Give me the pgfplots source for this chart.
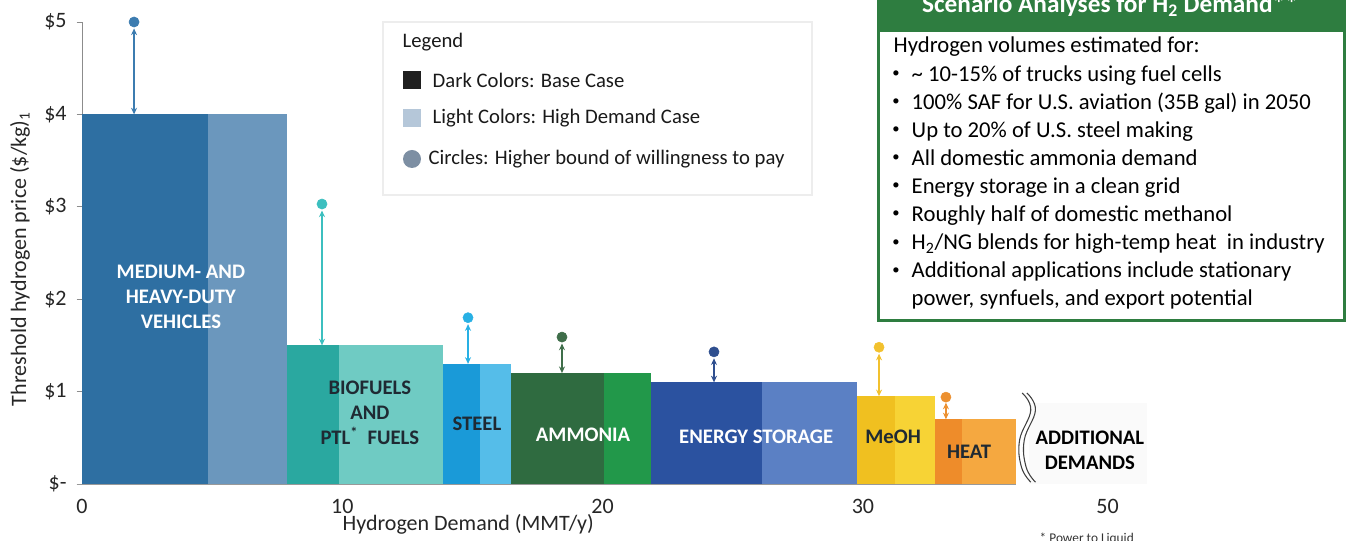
\documentclass[border=0pt]{standalone}
\usepackage{pgfplots}
\pgfplotsset{compat=1.18}
\usepackage{fontspec}
\setmainfont{Carlito}
\usetikzlibrary{arrows.meta}

\definecolor{mhdvD}{HTML}{2E6FA2}
\definecolor{mhdvL}{HTML}{6B97BD}
\definecolor{mhdvC}{HTML}{3C7CB0}
\definecolor{bioD}{HTML}{2AA8A0}
\definecolor{bioL}{HTML}{6FCBC3}
\definecolor{bioC}{HTML}{3CBFBF}
\definecolor{stD}{HTML}{1A9AD8}
\definecolor{stL}{HTML}{55BDE9}
\definecolor{stC}{HTML}{28B0E4}
\definecolor{amD}{HTML}{2F6B40}
\definecolor{amL}{HTML}{22984A}
\definecolor{amC}{HTML}{3F6E4A}
\definecolor{esD}{HTML}{2B52A0}
\definecolor{esL}{HTML}{5B80C4}
\definecolor{esC}{HTML}{2F4F8F}
\definecolor{meD}{HTML}{F0C020}
\definecolor{meL}{HTML}{F7D335}
\definecolor{meC}{HTML}{F2C12E}
\definecolor{htD}{HTML}{EE8C2A}
\definecolor{htL}{HTML}{F5A840}
\definecolor{htC}{HTML}{EC9030}
\definecolor{sgreen}{HTML}{2E7D40}
\definecolor{darktxt}{HTML}{1F2A33}
\definecolor{legL}{HTML}{B5C7D9}
\definecolor{legC}{HTML}{7D8FA3}

\newcommand{\axf}{\fontsize{16.5}{19}\selectfont}
\newcommand{\barf}{\fontsize{15.5}{18.75}\selectfont\bfseries}
\newcommand{\legf}{\fontsize{15.5}{18}\selectfont}
\newcommand{\scf}{\fontsize{17}{21}\selectfont}

\pgfplotsset{
  stem/.style={line width=1pt, {Stealth[length=5pt,width=4.5pt]}-{Stealth[length=5pt,width=4.5pt]}},
  dot/.style={only marks, mark=*, mark size=3.8pt},
}

\begin{document}
\begin{tikzpicture}[x=0.75pt,y=0.75pt]
\useasboundingbox (0,0) rectangle (1354,541);
\begin{axis}[
  at={(61.5pt,42.75pt)}, anchor=south west,
  scale only axis, width=780.9pt, height=346.5pt,
  xmin=0, xmax=40, ymin=0, ymax=5,
  clip=false,
  axis x line*=bottom, axis y line*=left,
  x axis line style={draw=none},
  y axis line style={draw=black!45, line width=0.6pt, -},
  xtick={0,10,20,30,39.4}, xticklabels={0,10,20,30,50},
  ytick={0,1,2,3,4,5}, yticklabels={\$-,\$1,\$2,\$3,\$4,\$5},
  xtick style={draw=none},
  ytick style={draw=black!45, line width=0.6pt},
  tick align=outside, major tick length=4pt,
  ticklabel style={font=\axf, text=black!85},
  xticklabel style={yshift=-4pt},
  yticklabel style={xshift=-4pt},
  xlabel={Hydrogen Demand (MMT/y)},
  ylabel={Threshold hydrogen price (\$/kg)\textsubscript{1}},
  label style={font=\axf, text=black!85},
  xlabel style={at={(axis description cs:0.371,0)}, anchor=center, yshift=-30pt},
  ylabel style={at={(axis description cs:-0.0596,0.487)}, anchor=center},
]
% additional demands background
\fill[black!2] (axis cs:36.4,0) rectangle (axis cs:40.9,0.88);

% bars: dark = base case, light = high demand case
\addplot[draw=none, fill=mhdvD] coordinates {(0,4.0) (4.84,4.0)} \closedcycle;
\addplot[draw=none, fill=mhdvL] coordinates {(4.84,4.0) (7.88,4.0)} \closedcycle;
\addplot[draw=none, fill=bioD] coordinates {(7.88,1.5) (9.87,1.5)} \closedcycle;
\addplot[draw=none, fill=bioL] coordinates {(9.87,1.5) (13.87,1.5)} \closedcycle;
\addplot[draw=none, fill=stD] coordinates {(13.87,1.3) (15.29,1.3)} \closedcycle;
\addplot[draw=none, fill=stL] coordinates {(15.29,1.3) (16.48,1.3)} \closedcycle;
\addplot[draw=none, fill=amD] coordinates {(16.48,1.2) (20.05,1.2)} \closedcycle;
\addplot[draw=none, fill=amL] coordinates {(20.05,1.2) (21.86,1.2)} \closedcycle;
\addplot[draw=none, fill=esD] coordinates {(21.86,1.1) (26.12,1.1)} \closedcycle;
\addplot[draw=none, fill=esL] coordinates {(26.12,1.1) (29.77,1.1)} \closedcycle;
\addplot[draw=none, fill=meD] coordinates {(29.77,0.95) (31.23,0.95)} \closedcycle;
\addplot[draw=none, fill=meL] coordinates {(31.23,0.95) (32.77,0.95)} \closedcycle;
\addplot[draw=none, fill=htD] coordinates {(32.77,0.7) (33.81,0.7)} \closedcycle;
\addplot[draw=none, fill=htL] coordinates {(33.81,0.7) (35.88,0.7)} \closedcycle;

% x axis line
\draw[black!40, line width=0.6pt] (axis cs:-0.2,0) -- (axis cs:35.9,0);

% stems and circles: higher bound of willingness to pay
\addplot[stem, mhdvC] coordinates {(2.0,4.93) (2.0,4.0)};
\addplot[dot, mhdvC] coordinates {(2.0,5.0)};
\addplot[stem, bioC] coordinates {(9.22,2.96) (9.22,1.5)};
\addplot[dot, bioC] coordinates {(9.22,3.03)};
\addplot[stem, stC] coordinates {(14.83,1.73) (14.83,1.3)};
\addplot[dot, stC] coordinates {(14.83,1.80)};
\addplot[stem, amC] coordinates {(18.44,1.52) (18.44,1.2)};
\addplot[dot, amC] coordinates {(18.44,1.59)};
\addplot[stem, esC] coordinates {(24.28,1.36) (24.28,1.1)};
\addplot[dot, esC] coordinates {(24.28,1.43)};
\addplot[stem, meC] coordinates {(30.62,1.41) (30.62,0.95)};
\addplot[dot, meC] coordinates {(30.62,1.48)};
\addplot[stem, htC] coordinates {(33.19,0.88) (33.19,0.7)};
\addplot[dot, htC] coordinates {(33.19,0.94)};

% bar labels
\node[white, font=\barf, align=center] at (axis cs:3.8,2.03) {MEDIUM- AND\\HEAVY-DUTY\\VEHICLES};
\node[darktxt, font=\barf, align=center] at (axis cs:11.06,0.77) {BIOFUELS\\AND\\PTL\textsuperscript{*}\ \ FUELS};
\node[darktxt, font=\barf] at (axis cs:15.17,0.65) {STEEL};
\node[white, font=\barf] at (axis cs:19.25,0.53) {AMMONIA};
\node[white, font=\barf] at (axis cs:25.9,0.51) {ENERGY STORAGE};
\node[darktxt, font=\barf] at (axis cs:31.16,0.51) {MeOH};
\node[darktxt, font=\barf] at (axis cs:34.08,0.35) {HEAT};
\node[black, font=\barf, align=center, inner sep=0pt] at (axis cs:38.72,0.36) {ADDITIONAL\\DEMANDS};

% axis break
\draw[black!75, line width=0.8pt] plot[smooth, tension=0.7] coordinates {(36.12,0.985) (36.45,0.80) (36.02,0.476) (36.09,0.184) (36.45,0.02)};
\draw[black!75, line width=0.8pt, xshift=3.5pt] plot[smooth, tension=0.7] coordinates {(36.12,0.985) (36.45,0.80) (36.02,0.476) (36.09,0.184) (36.45,0.02)};
\end{axis}

% legend box
\draw[black!7, line width=0.8pt] (383,346) rectangle (812,519);
\node[anchor=west, font=\legf, text=black!90] at (398,499) {Legend};
\fill[black!88] (403,452) rectangle (421,470);
\node[anchor=west, font=\legf, text=black!90] at (428,461) {Dark Colors: Base Case};
\fill[legL] (403,414) rectangle (421,432);
\node[anchor=west, font=\legf, text=black!90] at (428,423) {Light Colors: High Demand Case};
\fill[legC] (412,382) circle (6.75pt);
\node[anchor=west, font=\legf, text=black!90] at (424,382) {Circles: Higher bound of willingness to pay};

% scenario box
\fill[sgreen] (877,509) rectangle (1346,560);
\draw[sgreen, line width=2.25pt] (878.5,220) rectangle (1344.5,560);
\node[anchor=base, white, font=\fontsize{19}{22}\selectfont\bfseries] at (1110,528) {Scenario Analyses for H\textsubscript{2} Demand**};
\node[anchor=base west, font=\scf] at (889,488) {Hydrogen volumes estimated for:};
\foreach \t [count=\i] in {
  {\textasciitilde{} 10-15\% of trucks using fuel cells},
  {100\% SAF for U.S. aviation (35B gal) in 2050},
  {Up to 20\% of U.S. steel making},
  {All domestic ammonia demand},
  {Energy storage in a clean grid},
  {Roughly half of domestic methanol},
  {H\textsubscript{2}/NG blends for high-temp heat\ \ in industry},
  {Additional applications include stationary}} {
  \node[inner sep=0pt, font=\fontsize{11}{12}\selectfont] at (896,{488-28.1*\i+7}) {\textbullet};
  \node[anchor=base west, font=\scf] at (907,{488-28.1*\i}) {\t};
}
\node[anchor=base west, font=\scf] at (907,235) {power, synfuels, and export potential};

% footnote
\node[anchor=base west, font=\fontsize{10}{12}\selectfont, text=black!80] at (1035,-2) {* Power to Liquid};
\end{tikzpicture}
\end{document}
